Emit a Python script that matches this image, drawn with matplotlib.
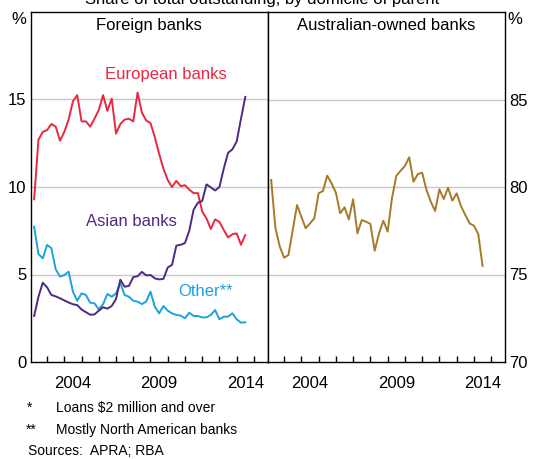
import matplotlib
matplotlib.use("Agg")
import matplotlib.pyplot as plt
import numpy as np

plt.rcParams["font.family"] = ["Liberation Sans", "DejaVu Sans"]

# quarterly, Mar 2002 to Jun 2014
dates = 2002.25 + 0.25 * np.arange(50)

european = [9.3, 12.7, 13.15, 13.25, 13.6, 13.45, 12.65, 13.15, 13.85, 14.9,
            15.25, 13.75, 13.75, 13.45, 13.9, 14.4, 15.25, 14.35, 15.05, 13.05,
            13.6, 13.85, 13.9, 13.75, 15.4, 14.25, 13.8, 13.65, 12.85, 11.9,
            11.05, 10.4, 10.0, 10.35, 10.05, 10.1, 9.85, 9.65, 9.65, 8.6,
            8.2, 7.6, 8.15, 8.0, 7.55, 7.12, 7.3, 7.35, 6.7, 7.25]
asian = [2.63, 3.73, 4.53, 4.27, 3.83, 3.75, 3.64, 3.52, 3.4, 3.3,
         3.25, 3.0, 2.85, 2.7, 2.72, 2.93, 3.13, 3.05, 3.2, 3.6,
         4.7, 4.3, 4.35, 4.85, 4.9, 5.15, 4.95, 4.97, 4.78, 4.72,
         4.75, 5.4, 5.55, 6.65, 6.7, 6.8, 7.5, 8.7, 9.1, 9.2,
         10.15, 9.98, 9.8, 10.0, 11.05, 11.95, 12.15, 12.6, 13.9, 15.15]
other = [7.73, 6.17, 5.92, 6.69, 6.5, 5.3, 4.88, 4.97, 5.16, 4.02,
         3.5, 3.92, 3.83, 3.39, 3.35, 3.01, 3.31, 3.89, 3.73, 3.92,
         4.5, 3.83, 3.73, 3.5, 3.45, 3.31, 3.45, 4.02, 3.16, 2.78,
         3.2, 2.93, 2.78, 2.69, 2.65, 2.5, 2.82, 2.63, 2.63, 2.55,
         2.55, 2.69, 2.97, 2.44, 2.59, 2.59, 2.78, 2.44, 2.25, 2.27]
australian = [80.4, 77.64, 76.59, 75.96, 76.11, 77.54, 78.97, 78.3, 77.64, 77.92,
              78.21, 79.64, 79.77, 80.65, 80.21, 79.68, 78.5, 78.84, 78.15, 79.3,
              77.35, 78.11, 78.02, 77.89, 76.36, 77.35, 78.07, 77.45, 79.35, 80.63,
              80.93, 81.2, 81.7, 80.3, 80.74, 80.82, 79.83, 79.16, 78.63, 79.87,
              79.31, 79.96, 79.22, 79.64, 78.91, 78.4, 77.92, 77.79, 77.31, 75.49]

year_labels = [2004, 2009, 2014]
left_ticks = [0, 5, 10, 15]
right_ticks = [70, 75, 80, 85]

red = "#E8283F"
purple = "#4E2A84"
blue = "#1AA3DD"
gold = "#A57A28"

W, H = 538, 459
fig = plt.figure(figsize=(W / 100, H / 100), dpi=100)
axL = fig.add_axes([30.7 / W, 97 / H, 237 / W, 350 / H])
axR = fig.add_axes([267.7 / W, 97 / H, 237.3 / W, 350 / H])

lw = 1.4
axL.plot(dates, european, color=red, lw=lw, zorder=3)
axL.plot(dates, other, color=blue, lw=lw, zorder=3)
axL.plot(dates, asian, color=purple, lw=lw, zorder=4)
axR.plot(dates, australian, color=gold, lw=lw, zorder=3)

for ax, lo, ticks in [(axL, 0, left_ticks), (axR, 70, right_ticks)]:
    ax.set_xlim(2002.05, 2015.8)
    ax.set_ylim(lo, lo + 20)
    ax.set_yticks(ticks)
    for t in ticks[1:]:
        ax.axhline(t, color="#c8c8c8", lw=1, zorder=1)
    ax.set_xticks(range(2003, 2016))
    ax.set_xticklabels([])
    ax.set_xticks([y + 0.5 for y in year_labels], minor=True)
    ax.set_xticklabels([str(y) for y in year_labels], minor=True, fontsize=12)
    ax.tick_params(axis="x", which="major", direction="in", length=4, width=1)
    ax.tick_params(axis="x", which="minor", length=0, pad=10)
    ax.tick_params(axis="y", length=0, labelsize=12)
    for s in ax.spines.values():
        s.set_linewidth(1)

axL.tick_params(axis="y", pad=3)
axR.yaxis.tick_right()
axR.tick_params(axis="y", pad=3)

axL.text(0.5, 0.96, "Foreign banks", transform=axL.transAxes,
         ha="center", va="center", fontsize=12)
axR.text(0.5, 0.96, "Australian-owned banks", transform=axR.transAxes,
         ha="center", va="center", fontsize=12)

axL.text(2009.9, 16.45, "European banks", color=red, ha="center", va="center", fontsize=12)
axL.text(2007.9, 8.0, "Asian banks", color=purple, ha="center", va="center", fontsize=12)
axL.text(2012.2, 4.0, "Other**", color=blue, ha="center", va="center", fontsize=12)

fig.text(19 / W, 1 - 19 / H, "%", ha="center", va="center", fontsize=12)
fig.text(515 / W, 1 - 19 / H, "%", ha="center", va="center", fontsize=12)

# title sits mostly above the crop, as in the reference
fig.text(262 / W, 1 - 4 / H, "Share of total outstanding, by domicile of parent",
         ha="center", va="baseline", fontsize=12)

fig.text(30 / W, 1 - 408 / H, "*", ha="center", va="center", fontsize=10)
fig.text(56 / W, 1 - 408 / H, "Loans $2 million and over", ha="left", va="center", fontsize=10)
fig.text(31 / W, 1 - 430 / H, "**", ha="center", va="center", fontsize=10)
fig.text(56 / W, 1 - 430 / H, "Mostly North American banks", ha="left", va="center", fontsize=10)
fig.text(28 / W, 1 - 451 / H, "Sources:  APRA; RBA", ha="left", va="center", fontsize=10)

fig.savefig("out.png", dpi=100)
